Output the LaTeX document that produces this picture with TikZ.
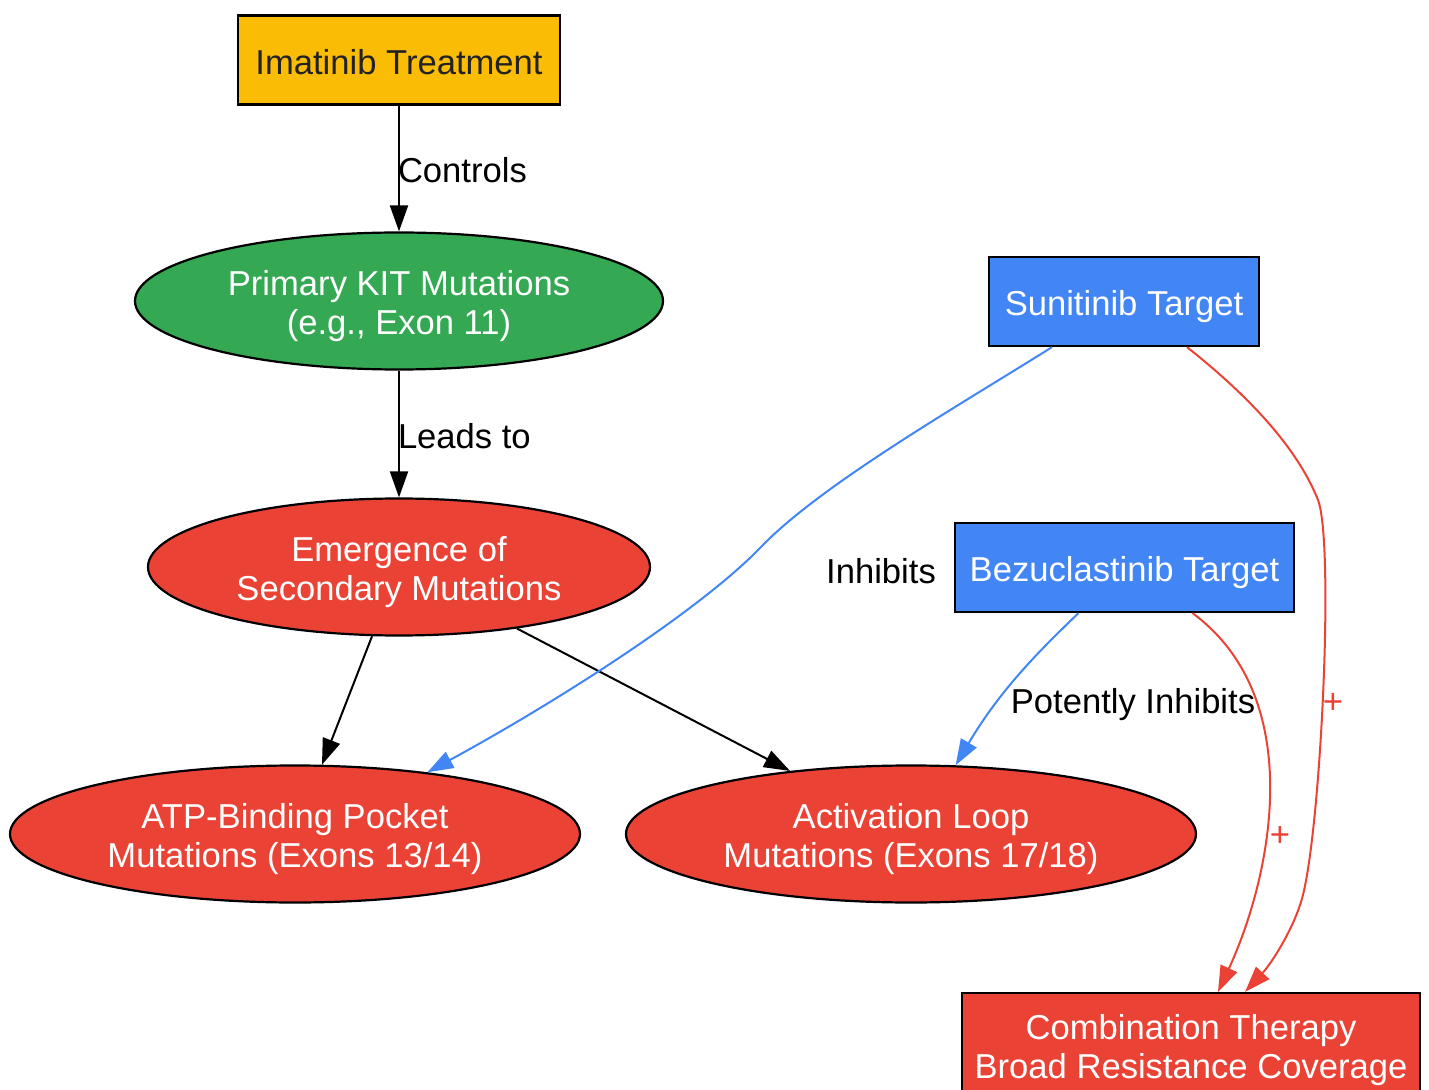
\documentclass[tikz,border=0pt]{standalone}
\usepackage{fontspec}
\setmainfont{Liberation Sans}
\usetikzlibrary{positioning,shapes,arrows.meta}
\definecolor{gorange}{HTML}{FBBC05}
\definecolor{ggreen}{HTML}{34A853}
\definecolor{gred}{HTML}{EA4335}
\definecolor{gblue}{HTML}{4285F4}
\definecolor{darktext}{HTML}{222222}
\newcommand{\lift}{\rule{0pt}{17.5pt}}

\begin{document}
\begin{tikzpicture}[x=0.5pt,y=-0.5pt,font=\fontsize{17.3}{19.5}\selectfont,
        box/.style={draw=black,line width=1.1pt,rectangle,inner sep=0pt,minimum height=44.5pt,align=center,text=white},
        oval/.style={draw=black,line width=1.1pt,ellipse,inner sep=0pt,minimum height=68.5pt,align=center,text=white},
        link/.style={line width=1pt,-{Triangle[length=13pt,width=9pt]}},
        lbl/.style={inner sep=0pt},
        plus/.style={inner sep=0pt,text=gred}]
                \useasboundingbox (0,0) rectangle (1429,1090);
                \clip (0,0) rectangle (1429,1090);
                \node[box,fill=gorange,text=darktext,minimum width=161pt] (imatinib) at (399,60) {\rule{0pt}{14.5pt}Imatinib Treatment};
                \node[oval,fill=ggreen,minimum width=264pt] (primary) at (399,301) {\lift Primary KIT Mutations\\(e.g., Exon 11)};
                \node[oval,fill=gred,minimum width=251pt] (emergence) at (399,567) {\lift Emergence of\\Secondary Mutations};
                \node[oval,fill=gred,minimum width=285pt] (atp) at (295,834) {\lift ATP-Binding Pocket\\Mutations (Exons 13/14)};
                \node[oval,fill=gred,minimum width=285pt] (activation) at (911,834) {\lift Activation Loop\\Mutations (Exons 17/18)};
                \node[box,fill=gblue,minimum width=135pt] (sunitinib) at (1124,301.5) {\lift Sunitinib Target};
                \node[box,fill=gblue,minimum width=169.5pt] (bezuclastinib) at (1124.5,567.5) {\lift Bezuclastinib Target};
                \node[box,fill=gred,minimum width=229pt,minimum height=52pt] (combo) at (1191,1045) {\lift Combination Therapy\\Broad Resistance Coverage};
                \draw[link] (imatinib) -- node[lbl,anchor=west,xshift=-1pt,yshift=-1pt] {Controls} (primary);
                \draw[link] (primary) -- node[lbl,anchor=west,xshift=-1pt,yshift=-1pt] {Leads to} (emergence);
                \draw[link] (emergence) -- (atp);
                \draw[link] (emergence) -- (activation);
                \draw[link,gblue] ([xshift=-36pt]sunitinib.south) .. controls (960,405) and (820,485) .. (760,548)
                        .. controls (700,610) and (560,700) .. (atp.25);
                \node[lbl] (inhibits) at (881,571) {Inhibits};
                \draw[link,gblue] ([xshift=-23pt]bezuclastinib.south) .. controls (1040,650) and (1000,690) .. (activation.57);
                \node[lbl] (potently) at (1133,705) {Potently Inhibits};
                \draw[link,gred] ([xshift=34pt]bezuclastinib.south) .. controls (1310,700) and (1270,880) .. ([xshift=13.5pt]combo.north);
                \node[plus] (plusb) at (1280,837) {+};
                \draw[link,gred] ([xshift=31.5pt]sunitinib.south) .. controls (1260,405) and (1300,455) .. (1318,500)
                        .. controls (1335,545) and (1320,850) .. (1300,905)
                        .. controls (1290,935) and (1270,965) .. ([xshift=27pt]combo.north);
                \node[plus] (pluss) at (1333,704) {+};
            \end{tikzpicture}
\end{document}
